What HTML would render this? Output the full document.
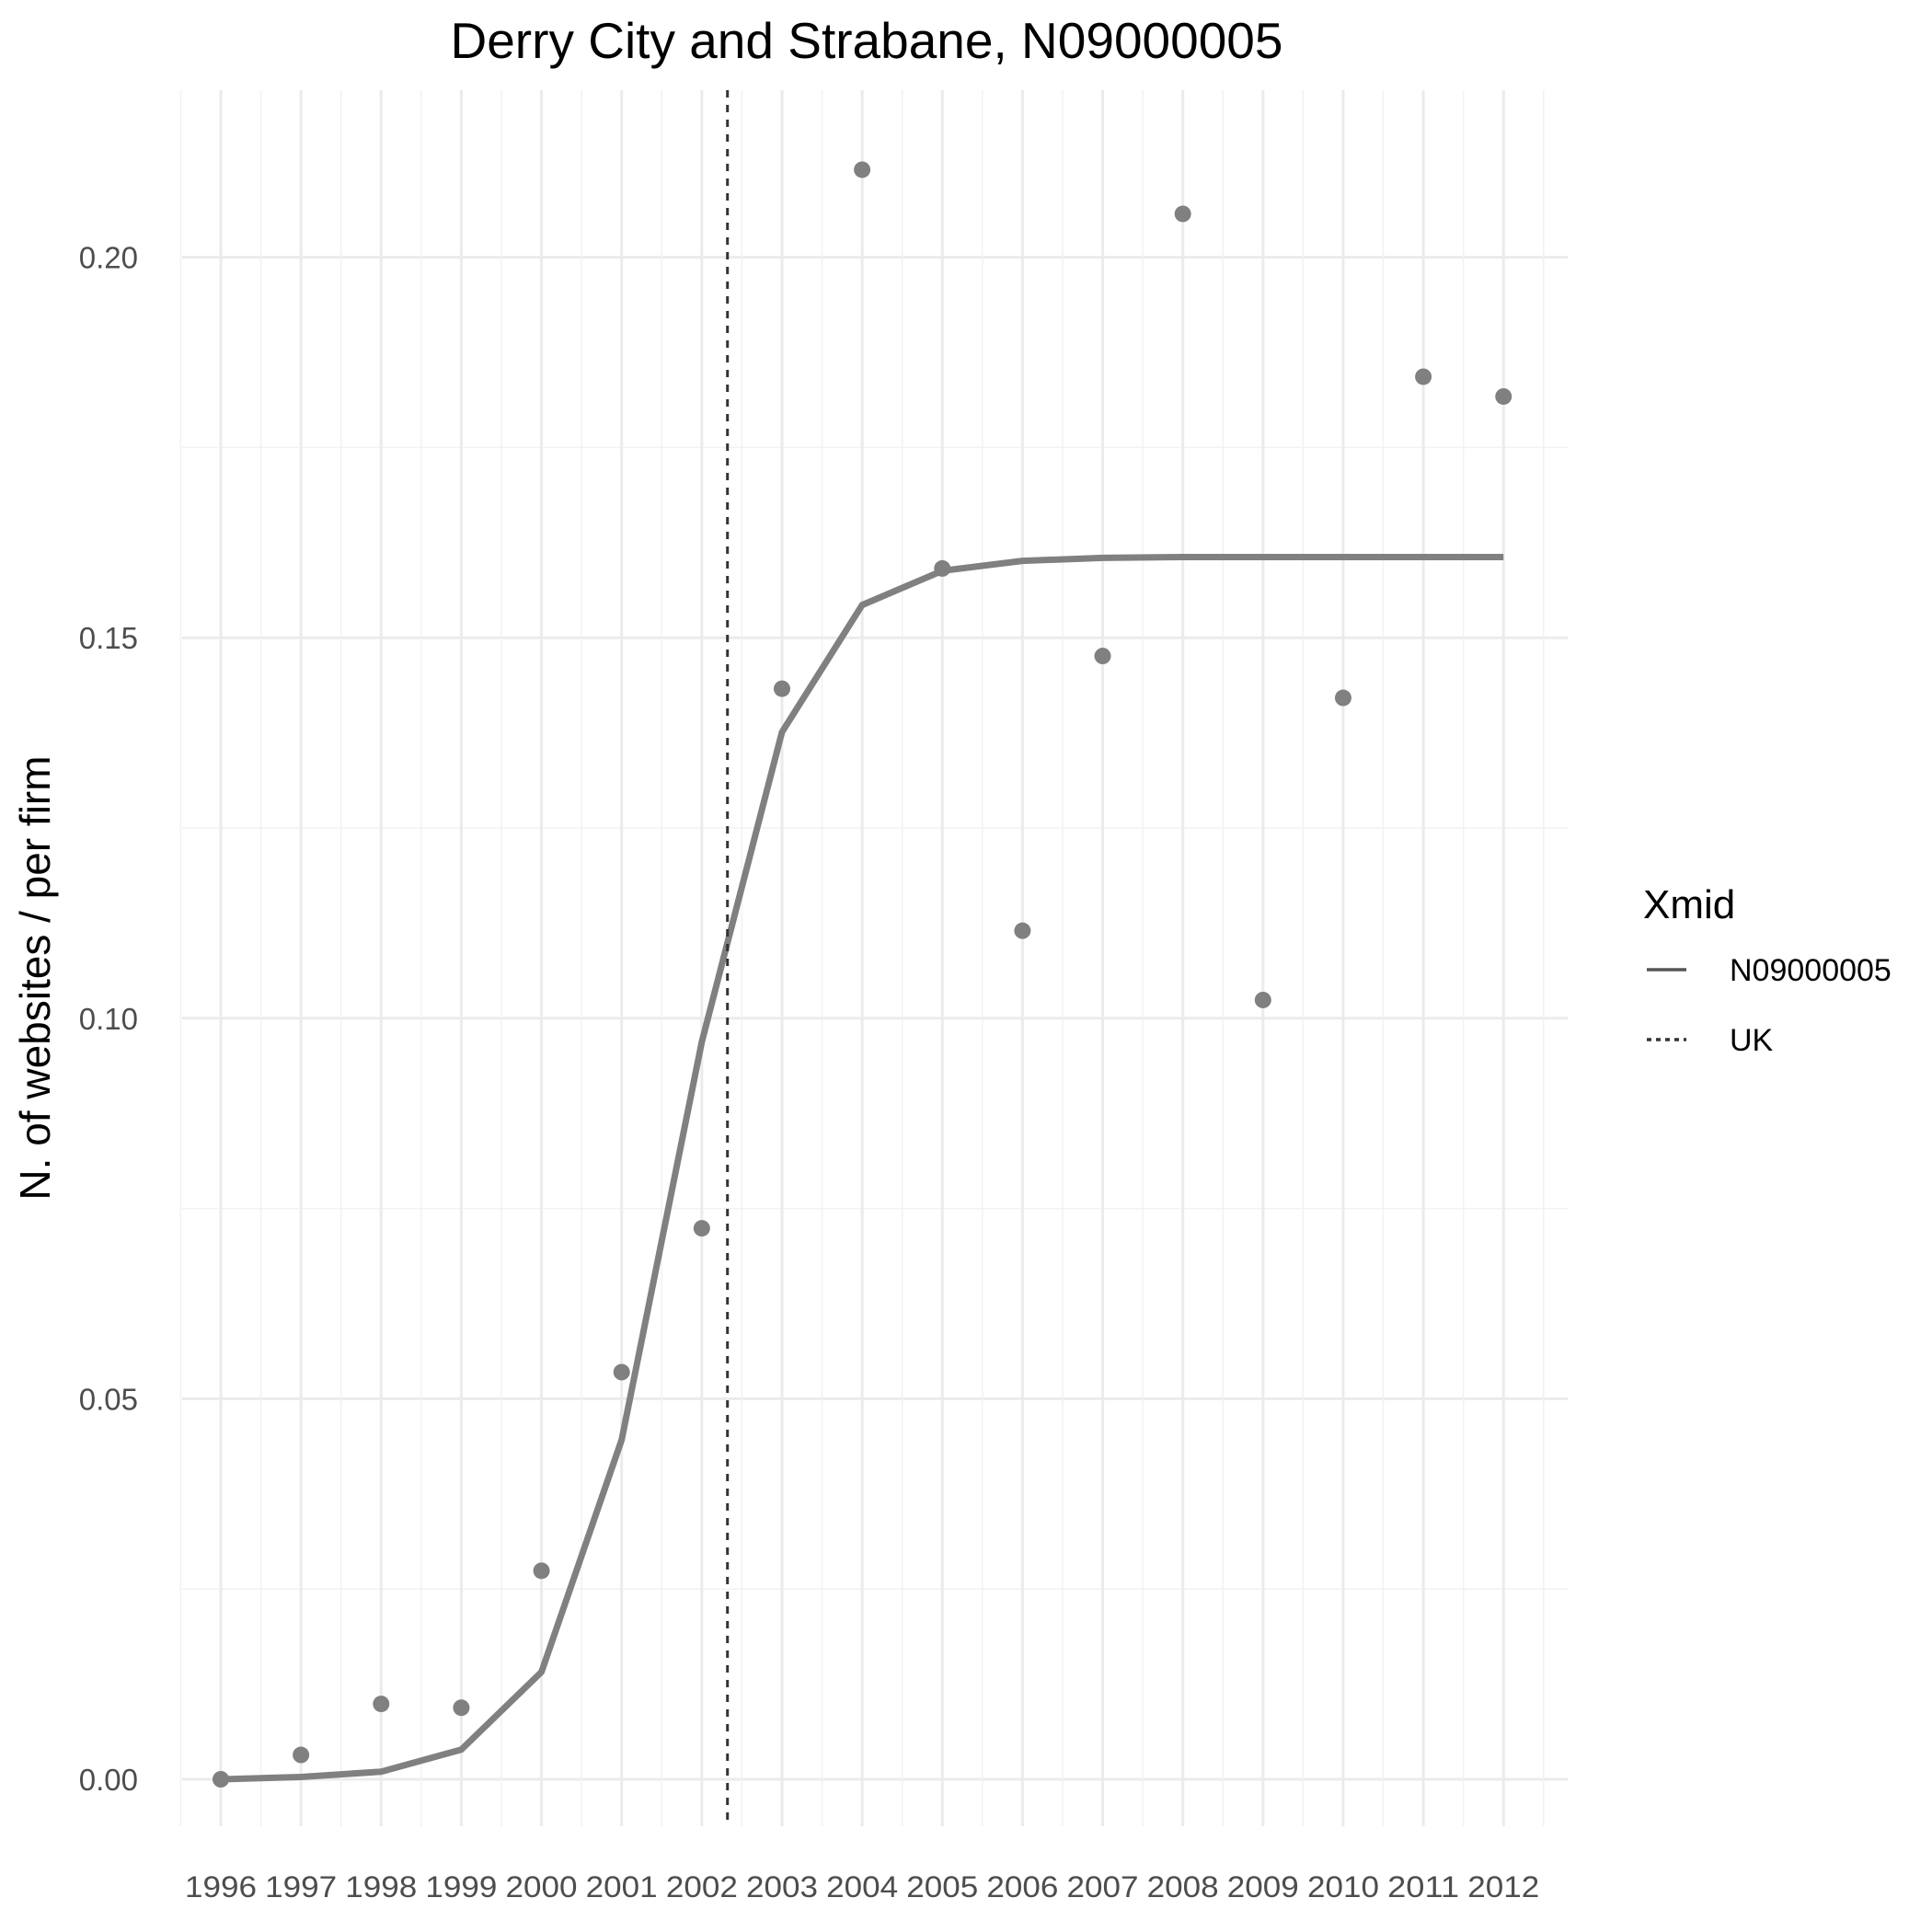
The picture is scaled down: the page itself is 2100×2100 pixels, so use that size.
<!DOCTYPE html>
<html><head><meta charset="utf-8"><style>body{margin:0;background:#fff}svg{display:block}</style></head>
<body>
<svg id="chart" width="2100" height="2100" xmlns="http://www.w3.org/2000/svg" font-family="Liberation Sans, sans-serif">
<rect width="2100" height="2100" fill="#fff"/>
<text x="942" y="63" font-size="55" text-anchor="middle" fill="#000">Derry City and Strabane, N09000005</text>
<text transform="translate(54,1063) rotate(-90)" font-size="46" text-anchor="middle" fill="#000">N. of websites / per firm</text>
<g id="grid"></g><g id="marks"></g><g id="axes"></g>
<g>
<text x="1786" y="998" font-size="44" fill="#000">Xmid</text>
<line x1="1790" y1="1054" x2="1833" y2="1054" stroke="#555" stroke-width="3.5"/>
<text x="1880" y="1066" font-size="34" fill="#000">N09000005</text>
<line x1="1790" y1="1130" x2="1833" y2="1130" stroke="#333" stroke-width="3.5" stroke-dasharray="5,5"/>
<text x="1880" y="1142" font-size="34" fill="#000">UK</text>
</g>
</svg>
<script>
const years=[1996,1997,1998,1999,2000,2001,2002,2003,2004,2005,2006,2007,2008,2009,2010,2011,2012];
const pointValues=[0,0.0032,0.0099,0.0094,0.0274,0.0535,0.0724,0.1433,0.2115,0.1591,0.1115,0.1476,0.2057,0.1024,0.1421,0.1843,0.1817];
const fitValues=[0,0.0003,0.001,0.0039,0.0141,0.0446,0.0969,0.1376,0.1543,0.1588,0.1601,0.1605,0.1606,0.1606,0.1606,0.1606,0.1606];
const ukYear=2002.32;
const yTicks=[0,0.05,0.10,0.15,0.20];
const yTickLabels=["0.00","0.05","0.10","0.15","0.20"];
const X=v=>240+(v-1996)*87.14;
const Y=v=>1934-v*8272;
const NS="http://www.w3.org/2000/svg";
function mk(p,t,a){const e=document.createElementNS(NS,t);for(const k in a)e.setAttribute(k,a[k]);document.getElementById(p).appendChild(e);return e;}
const L=198,R=1704,T=98,B=1985;
for(let i=0;i<yTicks.length;i++){
 const l=mk('grid','line',{x1:L,x2:R,y1:Y(yTicks[i]),y2:Y(yTicks[i]),stroke:'#ebebeb','stroke-width':3});
 
 
 if(i<yTicks.length-1){const m=(yTicks[i]+yTicks[i+1])/2;
 const n=mk('grid','line',{x1:L,x2:R,y1:Y(m),y2:Y(m),stroke:'#f2f2f2','stroke-width':1.5});
 
 }
 const t=mk('axes','text',{x:150,y:Y(yTicks[i])+12,'font-size':33,'text-anchor':'end',fill:'#4d4d4d'});
 
 
 t.textContent=yTickLabels[i];
}
for(let i=0;i<years.length;i++){
 const l=mk('grid','line',{x1:X(years[i]),x2:X(years[i]),y1:T,y2:B,stroke:'#ebebeb','stroke-width':3});
 
 
 const mx=X(years[i]-0.5);
 const n=mk('grid','line',{x1:mx,x2:mx,y1:T,y2:B,stroke:'#f2f2f2','stroke-width':1.5});
 
 
 const t=mk('axes','text',{x:X(years[i]),y:2062,'font-size':32,'text-anchor':'middle',fill:'#4d4d4d',textLength:78,lengthAdjust:'spacingAndGlyphs'});
 
 
 t.textContent=years[i];
}
{const mx=X(2012.5);const n=mk('grid','line',{x1:mx,x2:mx,y1:T,y2:B,stroke:'#f2f2f2','stroke-width':1.5});

}
const pl=mk('marks','polyline',{points:years.map((y,i)=>X(y)+','+Y(fitValues[i])).join(' '),fill:'none',stroke:'#808080','stroke-width':7,'stroke-linejoin':'round'});


years.forEach((y,i)=>{const c=mk('marks','circle',{cx:X(y),cy:Y(pointValues[i]),r:9,fill:'#808080'});

});
const uk=mk('marks','line',{x1:X(ukYear),x2:X(ukYear),y1:T,y2:B,stroke:'#333','stroke-width':3,'stroke-dasharray':'8,8'});


</script>
</body></html>
